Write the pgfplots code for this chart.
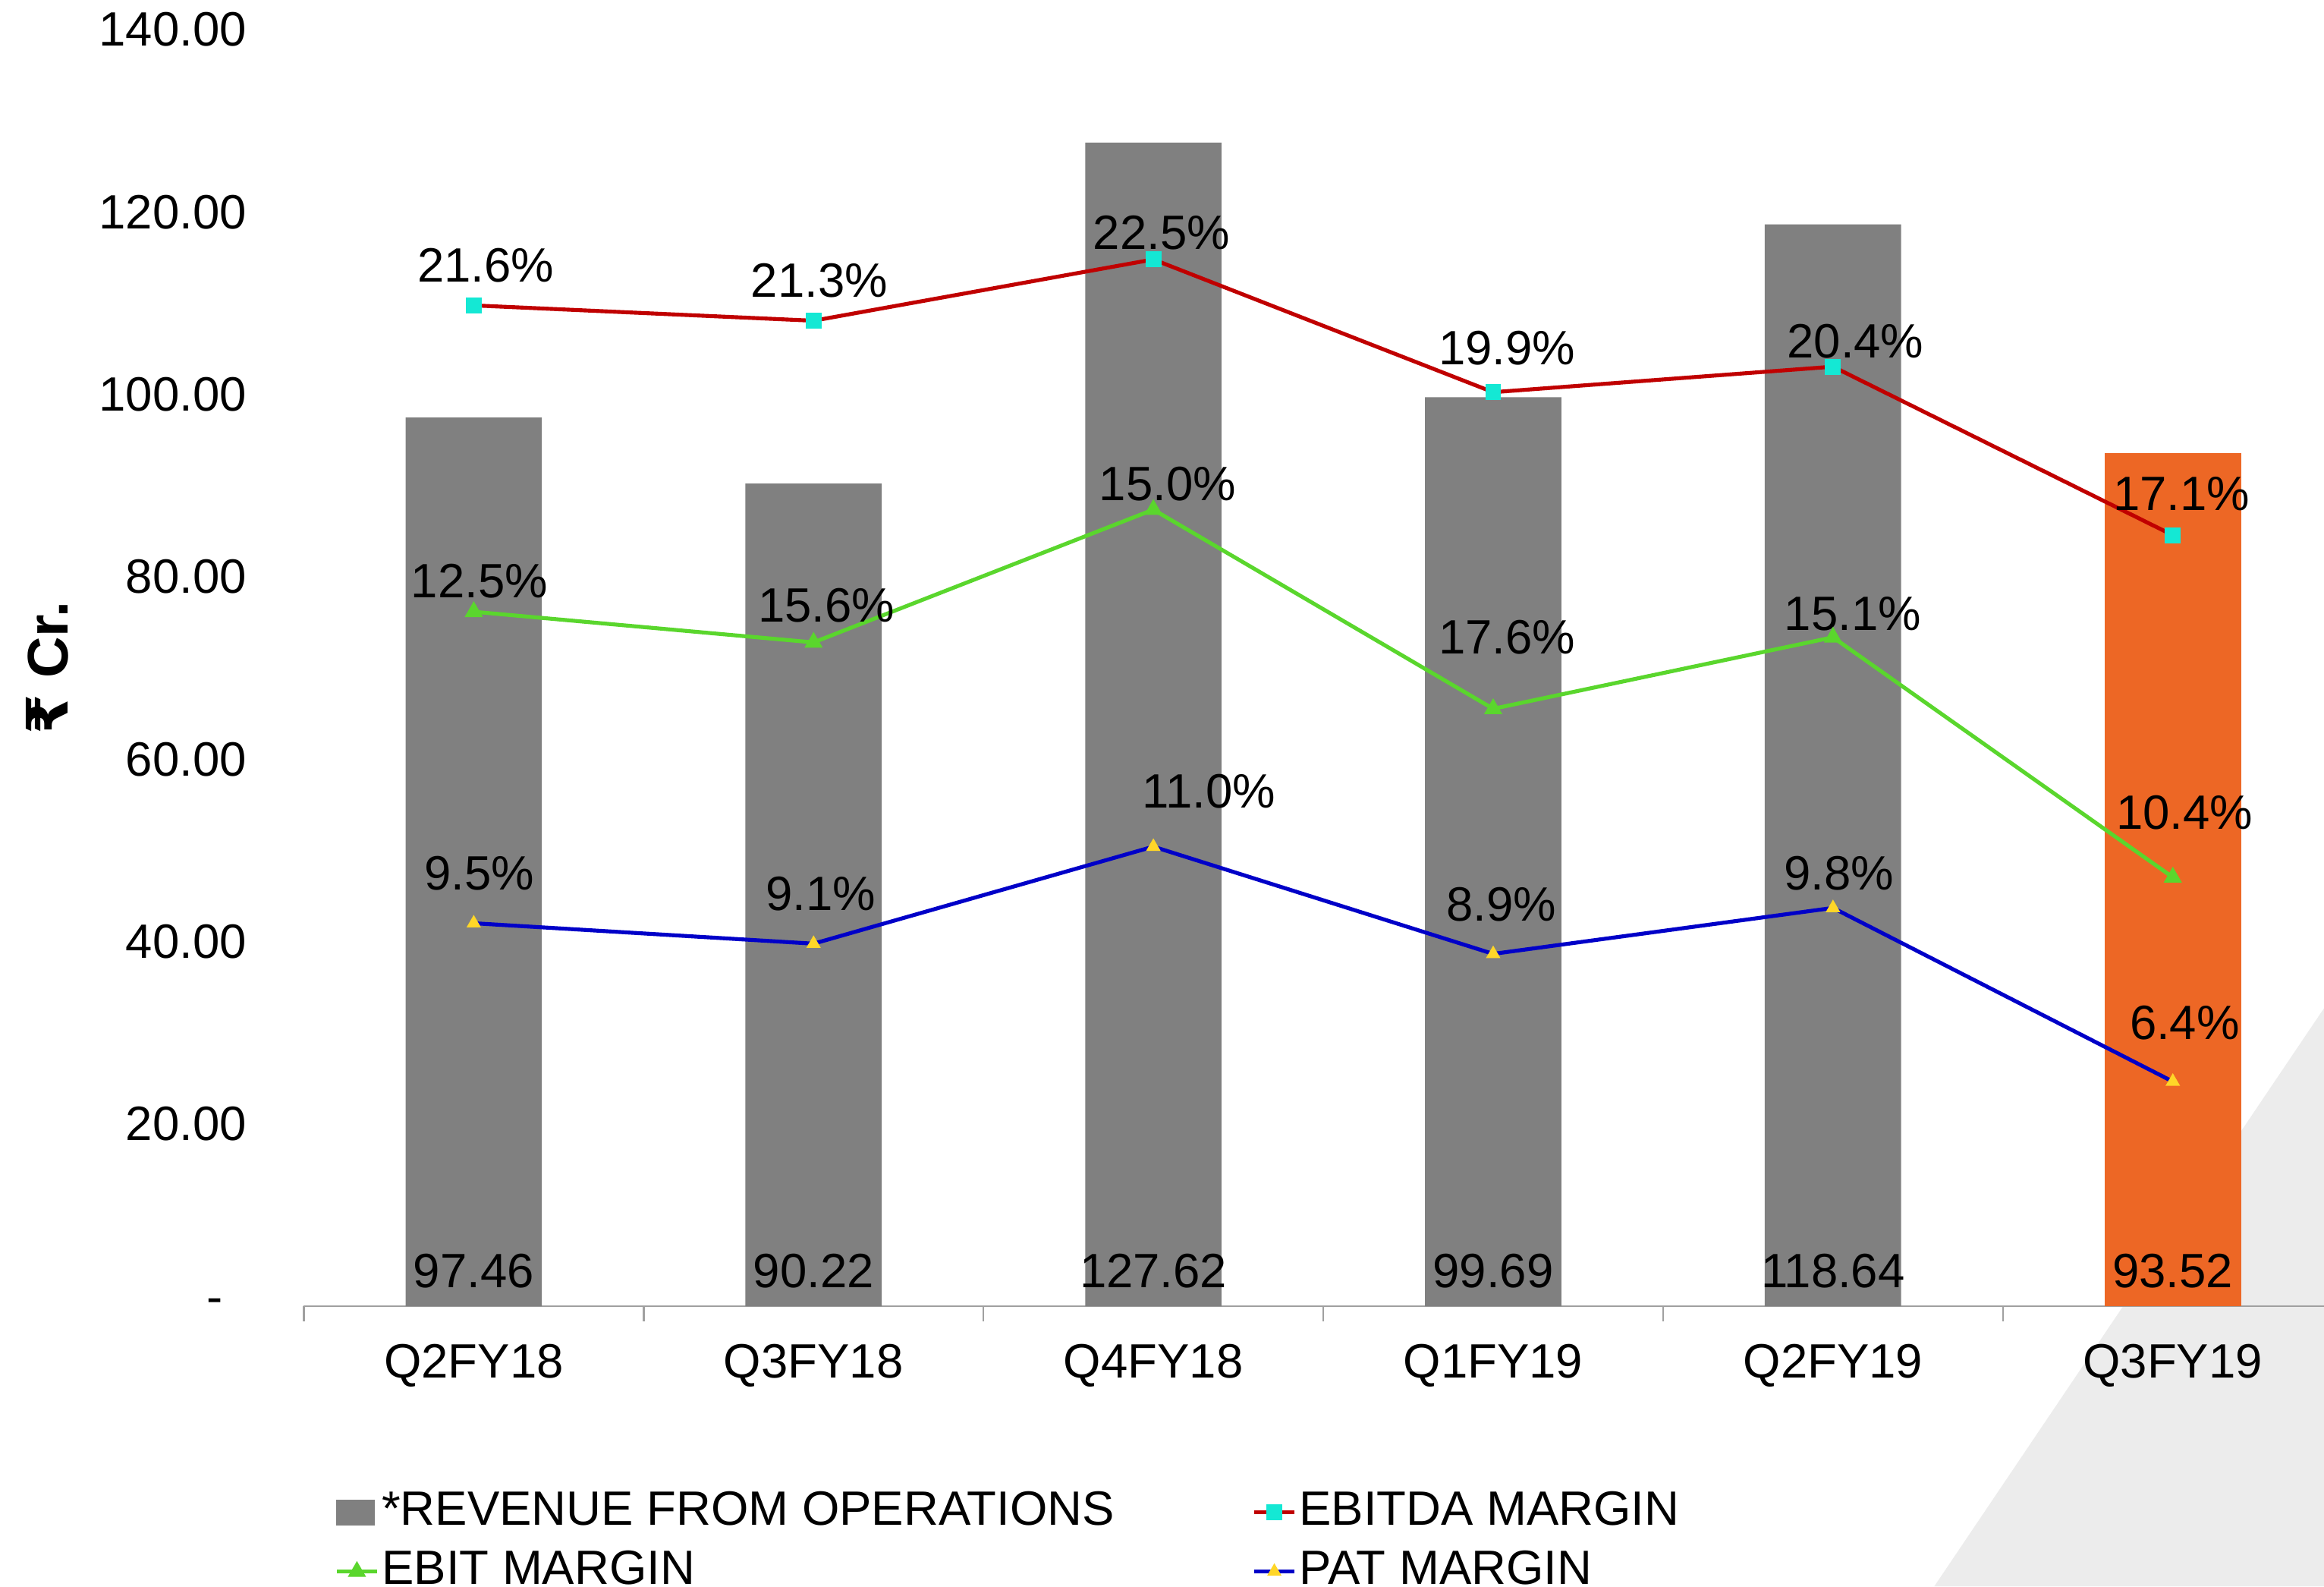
\documentclass[border=0pt]{standalone}
\usepackage{fontspec}
\setmainfont{Liberation Sans}
\newfontfamily\rupeefont{DejaVu Sans}
\usepackage{pgfplots}
\usepackage{pgfplotstable}
\pgfplotsset{compat=1.18}

\definecolor{barGray}{RGB}{128,128,128}
\definecolor{barOrange}{RGB}{237,103,37}
\definecolor{ebitdaRed}{RGB}{192,0,0}
\definecolor{ebitdaMark}{RGB}{20,232,212}
\definecolor{ebitGreen}{RGB}{90,214,45}
\definecolor{patBlue}{RGB}{0,0,200}
\definecolor{patMark}{RGB}{255,214,40}
\definecolor{bgGray}{RGB}{236,236,236}
\definecolor{axisGray}{RGB}{160,160,160}

% revenue, Rs Cr.
\pgfplotstableread{
x rev
0 97.46
1 90.22
2 127.62
3 99.69
4 118.64
5 93.52
}\revtable

% margins in percent (EBIT as plotted)
\pgfplotstableread{
x ebitda ebit pat
0 21.6 15.6 9.5
1 21.3 15.0 9.1
2 22.5 17.6 11.0
3 19.9 13.7 8.9
4 20.4 15.1 9.8
5 17.1 10.4 6.4
}\margins

\pgfplotsset{
  base/.style={
    width=136.3mm, height=86.1mm, scale only axis,
    xmin=-0.5, xmax=5.445,
    at={(0,0)}, anchor=south west,
    clip=false,
  },
}

\begin{document}
\fontsize{9.25}{11.1}\selectfont
\begin{tikzpicture}
\useasboundingbox (-20.5mm,-18.9mm) rectangle (136.3mm,88.1mm);
\fill[bgGray] (136.3mm,20.1mm) -- (110mm,-18.9mm) -- (137mm,-18.9mm) -- cycle;

\begin{axis}[base,
    ymin=0, ymax=140,
    ytick={0,20,...,140},
    yticklabels={{-\hspace*{1.6mm}},20.00,40.00,60.00,80.00,100.00,120.00,140.00},
    xtick={0,...,5},
    xticklabels={Q2FY18,Q3FY18,Q4FY18,Q1FY19,Q2FY19,Q3FY19},
    minor xtick={-0.5,0.5,...,4.5},
    major tick length=0pt, minor tick length=1mm,
    tick align=outside,
    separate axis lines,
    axis x line*=bottom, axis y line*=left,
    y axis line style={draw=none},
    x axis line style={axisGray, line width=0.35pt},
    every minor tick/.append style={axisGray, line width=0.35pt},
    yticklabel style={inner sep=0pt, xshift=-3.8mm},
    xticklabel style={inner sep=0pt, yshift=-2.5mm},
    /pgf/number format/assume math mode=true,
    ybar, bar width=9.2mm,
]
\addplot[fill=barGray, draw=none, bar shift=0pt, skip coords between index={5}{6}]
    table[x=x, y=rev] {\revtable};
\addplot[fill=barOrange, draw=none, bar shift=0pt, skip coords between index={0}{5}]
    table[x=x, y=rev] {\revtable};

\node[anchor=base, yshift=1.25mm] at (axis cs:0,0) {97.46};
\node[anchor=base, yshift=1.25mm] at (axis cs:1,0) {90.22};
\node[anchor=base, yshift=1.25mm] at (axis cs:2,0) {127.62};
\node[anchor=base, yshift=1.25mm] at (axis cs:3,0) {99.69};
\node[anchor=base, yshift=1.25mm] at (axis cs:4,0) {118.64};
\node[anchor=base, yshift=1.25mm] at (axis cs:5,0) {93.52};

\node[rotate=90, font=\fontsize{11}{13}\selectfont\bfseries]
    at ([xshift=-17.3mm]axis description cs:0,0.5) {{\rupeefont\bfseries ₹} Cr.};
\end{axis}

\begin{axis}[base,
    ymin=2, ymax=27,
    hide axis,
    legend columns=2,
    legend cell align=left,
    legend style={at={(0,0)}, anchor=north west, xshift=2.1mm, yshift=-12.15mm,
      draw=none, fill=none, inner sep=0pt, outer sep=0pt, row sep=0.5mm,
      nodes={inner sep=0.2mm, text height=2.4mm, text depth=0.7mm},
      /tikz/every even column/.append style={column sep=9.1mm}},
    legend image code/.code={\draw[mark repeat=2, mark phase=2, #1]
      plot coordinates {(0mm,0mm) (1.35mm,0mm) (2.7mm,0mm)};},
]
\addlegendimage{legend image code/.code={\fill[barGray] (0mm,-0.8mm) rectangle (2.5mm,0.8mm);}}
\addlegendentry{*REVENUE FROM OPERATIONS}

\addplot[ebitdaRed, line width=0.75pt, mark=square*, mark size=0.4mm,
    mark options={fill=ebitdaMark, draw=ebitdaMark}]
    table[x=x, y=ebitda] {\margins};
\addlegendentry{EBITDA MARGIN}

\addplot[ebitGreen, line width=0.75pt, mark=triangle*, mark size=0.45mm,
    mark options={fill=ebitGreen, draw=ebitGreen}]
    table[x=x, y=ebit] {\margins};
\addlegendentry{EBIT MARGIN}

\addplot[patBlue, line width=0.75pt, mark=triangle*, mark size=0.3mm,
    mark options={fill=patMark, draw=patMark}]
    table[x=x, y=pat] {\margins};
\addlegendentry{PAT MARGIN}

% EBITDA labels
\node at (axis cs:0.035,22.38) {21.6\%};
\node at (axis cs:1.017,22.09) {21.3\%};
\node at (axis cs:2.024,23.02) {22.5\%};
\node at (axis cs:3.041,20.76) {19.9\%};
\node at (axis cs:4.066,20.90) {20.4\%};
\node at (axis cs:5.026,17.91) {17.1\%};
% EBIT labels (as printed on the chart)
\node at (axis cs:0.017,16.20) {12.5\%};
\node at (axis cs:1.038,15.73) {15.6\%};
\node at (axis cs:2.042,18.11) {15.0\%};
\node at (axis cs:3.041,15.10) {17.6\%};
\node at (axis cs:4.058,15.56) {15.1\%};
\node at (axis cs:5.035,11.67) {10.4\%};
% PAT labels
\node at (axis cs:0.017,10.48) {9.5\%};
\node at (axis cs:1.021,10.07) {9.1\%};
\node at (axis cs:2.164,12.08) {11.0\%};
\node at (axis cs:3.024,9.87) {8.9\%};
\node at (axis cs:4.018,10.48) {9.8\%};
\node at (axis cs:5.035,7.55) {6.4\%};
\end{axis}
\end{tikzpicture}
\end{document}
